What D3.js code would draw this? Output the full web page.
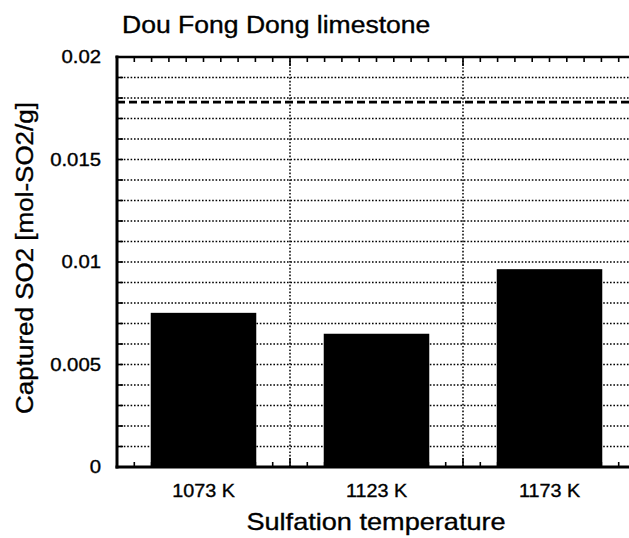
<!DOCTYPE html>
<html>
<head>
<meta charset="utf-8">
<script src="https://cdn.jsdelivr.net/npm/d3@7"></script>
<style>
  body { margin: 0; background: #fff; }
  text { font-family: "Liberation Sans", Arial, sans-serif; fill: #000; stroke: #000; stroke-width: 0.35px; }
</style>
</head>
<body>
<svg></svg>
<script>
const width = 629;
const height = 538;

// data
const categories = ["1073 K", "1123 K", "1173 K"];
const capturedSO2 = [0.00752, 0.0065, 0.00965];
const refLevel = [0.0178];
const yTickValues = [0, 0.005, 0.01, 0.015, 0.02];
const yTickLabels = ["0", "0.005", "0.01", "0.015", "0.02"];

const plotLeft = 117, plotRight = 636, plotTop = 57, plotBottom = 467;
const stretch = 1.13; // the type in the original is a bit wide

const svg = d3.select("svg")
  .attr("width", width)
  .attr("height", height);

const x = d3.scaleBand()
  .domain(categories)
  .range([plotLeft, plotRight])
  .paddingInner(0.39)
  .paddingOuter(0.195);

// linear scale across the same width, for the ticks and the vertical grid
const xl = d3.scaleLinear().domain([0, categories.length]).range([plotLeft, plotRight]);

const y = d3.scaleLinear().domain([0, 0.02]).range([plotBottom, plotTop]);

// horizontal dotted grid every 0.001
const yMinor = d3.range(1, 20).map(i => i * 0.001);
svg.append("g")
  .selectAll("line")
  .data(yMinor)
  .enter().append("line")
  .attr("x1", plotLeft).attr("x2", plotRight)
  .attr("y1", d => y(d)).attr("y2", d => y(d))
  .attr("stroke", "#000")
  .attr("stroke-width", 1.5)
  .attr("stroke-dasharray", "1.6,1.8");

// vertical dotted grid between the categories
svg.append("g")
  .selectAll("line")
  .data(d3.range(1, categories.length))
  .enter().append("line")
  .attr("x1", d => xl(d)).attr("x2", d => xl(d))
  .attr("y1", plotTop).attr("y2", plotBottom)
  .attr("stroke", "#000")
  .attr("stroke-width", 1.5)
  .attr("stroke-dasharray", "1.6,1.8");

// dashed reference line
svg.append("g")
  .selectAll("line")
  .data(refLevel)
  .enter().append("line")
  .attr("x1", plotLeft).attr("x2", plotRight)
  .attr("y1", d => y(d)).attr("y2", d => y(d))
  .attr("stroke", "#000")
  .attr("stroke-width", 2.6)
  .attr("stroke-dasharray", "8,4");

// bars
svg.append("g")
  .selectAll("rect")
  .data(capturedSO2)
  .enter().append("rect")
  .attr("x", (d, i) => x(categories[i]))
  .attr("width", x.bandwidth())
  .attr("y", d => y(d))
  .attr("height", d => y(0) - y(d))
  .attr("fill", "#000");

// x ticks (inward, top and bottom)
const xTicks = d3.range(1, categories.length * 10).map(i => i / 10);
const isMajor = d => Math.abs(d - Math.round(d)) < 1e-6;
const tickG = svg.append("g").attr("stroke", "#000").attr("stroke-width", 1.6);
tickG.selectAll(".xb")
  .data(xTicks)
  .enter().append("line")
  .attr("x1", d => xl(d)).attr("x2", d => xl(d))
  .attr("y1", plotBottom).attr("y2", d => plotBottom - (isMajor(d) ? 9 : 5));
tickG.selectAll(".xt")
  .data(xTicks)
  .enter().append("line")
  .attr("x1", d => xl(d)).attr("x2", d => xl(d))
  .attr("y1", plotTop).attr("y2", d => plotTop + (isMajor(d) ? 9 : 5));

// y ticks (inward, left)
tickG.selectAll(".yl")
  .data(yMinor)
  .enter().append("line")
  .attr("x1", plotLeft).attr("x2", plotLeft + 6)
  .attr("y1", d => y(d)).attr("y2", d => y(d));

// frame
svg.append("line").attr("x1", plotLeft).attr("x2", plotLeft).attr("y1", plotTop - 1.5).attr("y2", plotBottom + 1.5)
  .attr("stroke", "#000").attr("stroke-width", 3);
svg.append("line").attr("x1", plotLeft - 1.5).attr("x2", plotRight).attr("y1", plotTop).attr("y2", plotTop)
  .attr("stroke", "#000").attr("stroke-width", 2.6);
svg.append("line").attr("x1", plotLeft - 1.5).attr("x2", plotRight).attr("y1", plotBottom).attr("y2", plotBottom)
  .attr("stroke", "#000").attr("stroke-width", 3);
svg.append("line").attr("x1", plotRight).attr("x2", plotRight).attr("y1", plotTop).attr("y2", plotBottom)
  .attr("stroke", "#000").attr("stroke-width", 3);

// y tick labels
svg.append("g")
  .selectAll("text")
  .data(yTickValues)
  .enter().append("text")
  .attr("transform", d => "translate(101," + y(d) + ") scale(" + stretch + ",1)")
  .attr("dy", "0.36em")
  .attr("text-anchor", "end")
  .style("font-size", "18px")
  .text((d, i) => yTickLabels[i]);

// x tick labels
svg.append("g")
  .selectAll("text")
  .data(categories)
  .enter().append("text")
  .attr("transform", d => "translate(" + (x(d) + x.bandwidth() / 2) + ",497) scale(" + stretch + ",1)")
  .attr("text-anchor", "middle")
  .style("font-size", "17.5px")
  .text(d => d);

// titles
svg.append("text")
  .attr("transform", "translate(122,33) scale(" + stretch + ",1)")
  .style("font-size", "23.5px")
  .text("Dou Fong Dong limestone");

svg.append("text")
  .attr("transform", "translate(376,530) scale(" + stretch + ",1)")
  .attr("text-anchor", "middle")
  .style("font-size", "24px")
  .text("Sulfation temperature");

svg.append("text")
  .attr("transform", "translate(33,258) rotate(-90) scale(" + stretch + ",1)")
  .attr("text-anchor", "middle")
  .style("font-size", "23px")
  .text("Captured SO2 [mol-SO2/g]");
</script>
</body>
</html>
